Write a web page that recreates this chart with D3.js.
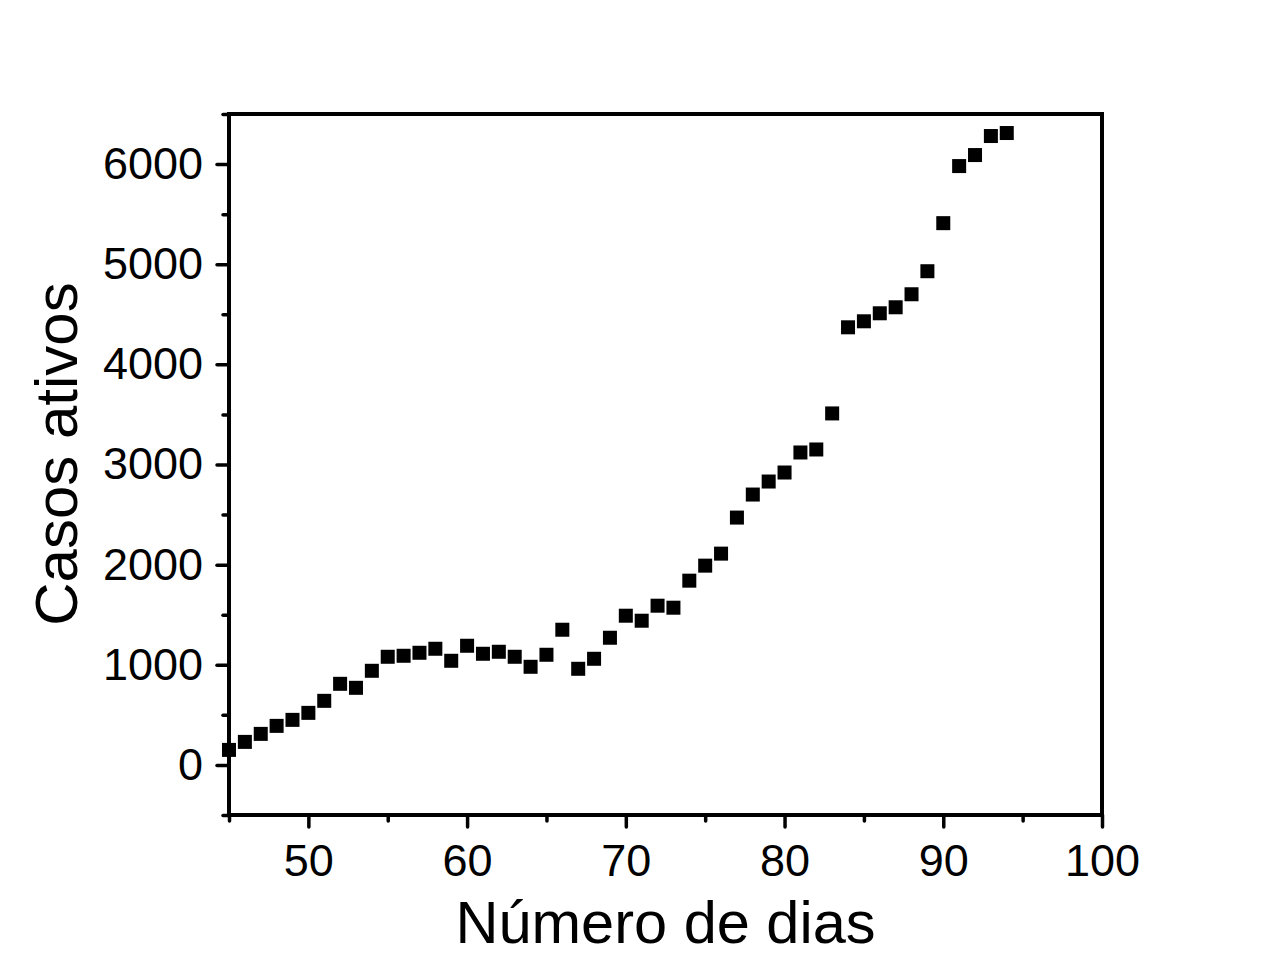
<!DOCTYPE html>
<html>
<head>
<meta charset="utf-8">
<script src="https://cdn.jsdelivr.net/npm/d3@7"></script>
<style>
  body { margin: 0; background: #fff; }
  svg { display: block; font-family: "Liberation Sans", Arial, sans-serif; }
</style>
</head>
<body>
<svg id="chart" width="1280" height="979"></svg>
<script>
// day numbers and active cases
var days = [45, 46, 47, 48, 49, 50, 51, 52, 53, 54,
            55, 56, 57, 58, 59, 60, 61, 62, 63, 64,
            65, 66, 67, 68, 69, 70, 71, 72, 73, 74,
            75, 76, 77, 78, 79, 80, 81, 82, 83, 84,
            85, 86, 87, 88, 89, 90, 91, 92, 93, 94];
var activeCases = [150, 230, 310, 390, 450, 520, 640, 810, 770, 940,
                   1080, 1090, 1120, 1160, 1040, 1190, 1110, 1130, 1080, 980,
                   1100, 1350, 960, 1060, 1270, 1490, 1440, 1590, 1570, 1840,
                   1990, 2110, 2470, 2700, 2830, 2920, 3120, 3150, 3510, 4370,
                   4430, 4510, 4570, 4700, 4930, 5410, 5980, 6090, 6280, 6310];
var xMajorTicks = [50, 60, 70, 80, 90, 100];
var xMinorTicks = [45, 55, 65, 75, 85, 95];
var yMajorTicks = [0, 1000, 2000, 3000, 4000, 5000, 6000];
var yMinorTicks = [-500, 500, 1500, 2500, 3500, 4500, 5500, 6500];
var xTitle = 'Número de dias';
var yTitle = 'Casos ativos';

(function () {
    var data = days.map(function (d, i) { return {x: d, y: activeCases[i]}; });

    var svg = d3.select('#chart');
    var plotLeft = 229, plotRight = 1102, plotTop = 114, plotBottom = 815;

    var x = d3.scaleLinear().domain([45, 100]).range([plotLeft, plotRight]);
    var y = d3.scaleLinear().domain([-500, 6500]).range([plotBottom, plotTop]);

    function styleAxis(g) {
        g.select('.domain').remove();
        g.selectAll('.tick line').attr('stroke', '#000').attr('stroke-width', 3.5).attr('stroke-linecap', 'round');
        g.selectAll('.tick text').attr('fill', '#000').style('font-size', '45px');
    }

    // minor ticks
    svg.append('g')
        .attr('transform', 'translate(0,' + plotBottom + ')')
        .call(d3.axisBottom(x).tickValues(xMinorTicks).tickSize(6).tickFormat(''))
        .call(styleAxis);
    svg.append('g')
        .attr('transform', 'translate(' + plotLeft + ',0)')
        .call(d3.axisLeft(y).tickValues(yMinorTicks).tickSize(6).tickFormat(''))
        .call(styleAxis);

    // major ticks with labels
    svg.append('g')
        .attr('transform', 'translate(0,' + plotBottom + ')')
        .call(d3.axisBottom(x).tickValues(xMajorTicks).tickSize(12).tickPadding(17).tickFormat(d3.format('d')))
        .call(styleAxis);
    svg.append('g')
        .attr('transform', 'translate(' + plotLeft + ',0)')
        .call(d3.axisLeft(y).tickValues(yMajorTicks).tickSize(12).tickPadding(14).tickFormat(d3.format('d')))
        .call(styleAxis);

    // frame
    svg.append('rect')
        .attr('x', plotLeft).attr('y', plotTop)
        .attr('width', plotRight - plotLeft).attr('height', plotBottom - plotTop)
        .attr('fill', 'none').attr('stroke', '#000').attr('stroke-width', 4);

    // points
    var size = 14;
    svg.append('g')
        .selectAll('rect')
        .data(data)
        .enter()
        .append('rect')
        .attr('x', function (d) { return x(d.x) - size / 2; })
        .attr('y', function (d) { return y(d.y) - size / 2; })
        .attr('width', size)
        .attr('height', size)
        .attr('fill', '#000');

    // axis titles
    svg.append('text')
        .attr('x', (plotLeft + plotRight) / 2)
        .attr('y', 943)
        .attr('text-anchor', 'middle')
        .style('font-size', '59.5px')
        .text(xTitle);
    svg.append('text')
        .attr('transform', 'translate(77,454) rotate(-90)')
        .attr('text-anchor', 'middle')
        .style('font-size', '60px')
        .text(yTitle);
})();
</script>
</body>
</html>
